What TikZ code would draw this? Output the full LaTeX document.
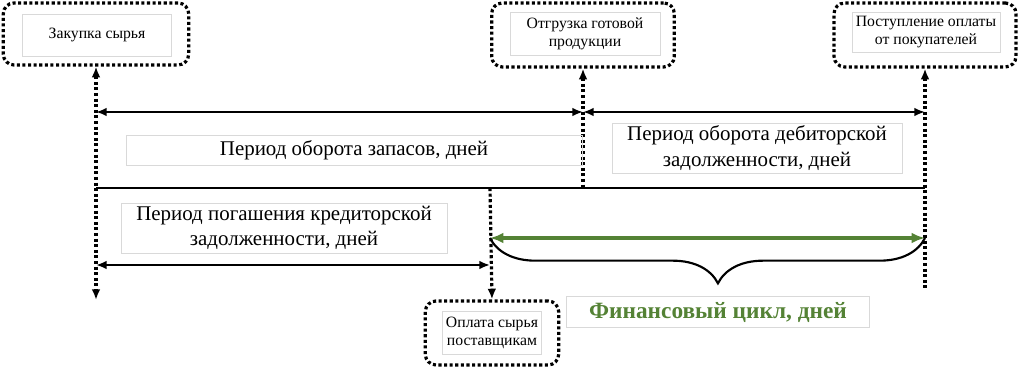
\documentclass[tikz,border=0pt]{standalone}
\usepackage{fontspec}
\setmainfont{Liberation Serif}
\usetikzlibrary{arrows.meta, decorations.pathreplacing}
\definecolor{fingreen}{HTML}{548235}
\definecolor{lblgray}{HTML}{D9D9D9}

\tikzset{
  evbox/.style={draw, line width=2.4pt, dash pattern=on 2.3pt off 1.9pt, rounded corners=8pt},
  evtext/.style={draw=lblgray, line width=0.6pt, align=center, inner sep=0pt,
    font=\fontsize{11.8}{13.8}\selectfont},
  lbl/.style={draw=lblgray, line width=0.6pt, align=center, inner sep=0pt,
    font=\fontsize{15.7}{18.8}\selectfont},
  dotline/.style={line width=2.4pt, dash pattern=on 2.3pt off 1.9pt},
  period/.style={line width=1.5pt, {Latex[length=8pt,width=6.5pt]}-{Latex[length=8pt,width=6.5pt]}},
}

\begin{document}
\begin{tikzpicture}[x=0.75pt, y=-0.75pt, >={Latex[length=8pt, width=6.5pt]}]

\useasboundingbox (0,0) rectangle (1024,370);

% Events (dotted boxes)
\node[evbox, minimum width=139pt, minimum height=46.5pt] (zak) at (96,34) {};
\node[evtext, minimum width=112pt, minimum height=31.5pt] (zaktxt) at (97,35) {Закупка сырья};

\node[evbox, minimum width=137pt, minimum height=48pt] (otg) at (583,35) {};
\node[evtext, minimum width=112.5pt, minimum height=32pt] (otgtxt) at (585,34) {Отгрузка готовой\\продукции};

\node[evbox, minimum width=136.5pt, minimum height=48pt] (post) at (925,35) {};
\node[evtext, minimum width=111pt, minimum height=30pt] (posttxt) at (926,32) {Поступление оплаты\\от покупателей};

\node[evbox, minimum width=100pt, minimum height=48pt] (opl) at (492,333) {};
\node[evtext, minimum width=74pt, minimum height=32pt] (opltxt) at (492,333) {Оплата сырья\\поставщикам};

% Points on the time lines
\coordinate (a1) at (96,112);
\coordinate (a2) at (583,112);
\coordinate (a3) at (925,112);
\coordinate (b1) at (96,188);
\coordinate (b2) at (583,188);
\coordinate (b3) at (925,188);
\coordinate (b4) at (490,188);
\coordinate (c1) at (96,265);
\coordinate (c2) at (490,265);
\coordinate (g1) at (490,238);
\coordinate (g2) at (925,238);
\coordinate (zakend) at (96,300);
\coordinate (postend) at (925,290);

% Dotted verticals
\draw[dotline, <->] (zak.south) -- (zakend);
\draw[dotline, <-] (otg.south) -- (b2);
\draw[dotline, <-] (post.south) -- (postend);
\draw[dotline, ->] (b4) -- (opl.north);

% Periods
\draw[period] (a1) -- (a2);
\draw[period] (a2) -- (a3);
\draw[line width=1.8pt] (b1) -- (b3);
\draw[period] (c1) -- (c2);

% Financial cycle
\draw[fingreen, line width=3pt, {Latex[length=10pt,width=8pt]}-{Latex[length=10pt,width=8pt]}] (g1) -- (g2);
\draw[line width=1.6pt, decorate, decoration={brace, mirror, amplitude=34pt, aspect=0.524}] (g1) -- (g2);

% Labels
\node[lbl, minimum width=342pt, minimum height=22.5pt] (zap) at (354,150) {Период оборота запасов, дней};
\node[lbl, minimum width=217.5pt, minimum height=37.5pt] (deb) at (757,148) {Период оборота дебиторской\\задолженности, дней};
\node[lbl, minimum width=244.5pt, minimum height=37.5pt] (kred) at (284,228) {Период погашения кредиторской\\задолженности, дней};
\node[lbl, minimum width=227pt, minimum height=23pt, text=fingreen, font=\fontsize{17.5}{20}\selectfont\bfseries] (fin) at (718,312) {Финансовый цикл, дней};

\end{tikzpicture}
\end{document}
